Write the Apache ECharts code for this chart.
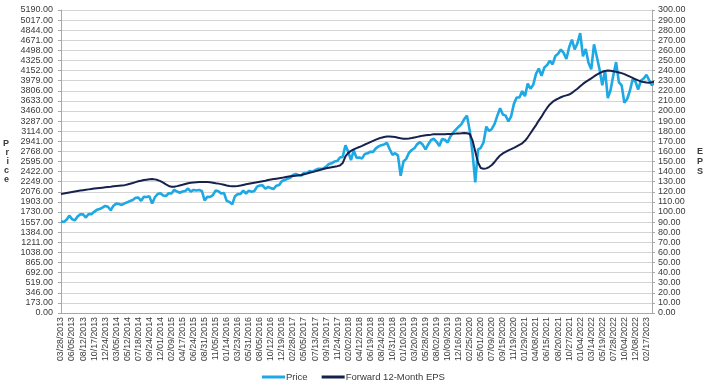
<!DOCTYPE html>
<html><head><meta charset="utf-8">
<script src="https://cdn.jsdelivr.net/npm/echarts@6/dist/echarts.min.js"></script>
<style>html,body{margin:0;padding:0;background:#fff}#c{width:715px;height:387px}</style>
</head><body><div id="c"></div>
<script>
// tick labels (every 4th category)
const tickLabels = ["03/28/2013","06/05/2013","08/12/2013","10/17/2013","12/24/2013","03/05/2014","05/12/2014","07/18/2014","09/24/2014","12/01/2014","02/09/2015","04/17/2015","06/24/2015","08/31/2015","11/05/2015","01/14/2016","03/23/2016","05/31/2016","08/05/2016","10/12/2016","12/19/2016","02/28/2017","05/05/2017","07/13/2017","09/19/2017","11/24/2017","02/02/2018","04/12/2018","06/19/2018","08/24/2018","10/31/2018","01/10/2019","03/20/2019","05/28/2019","08/02/2019","10/09/2019","12/16/2019","02/25/2020","05/01/2020","07/09/2020","09/15/2020","11/19/2020","01/29/2021","04/08/2021","06/15/2021","08/20/2021","10/27/2021","01/04/2022","03/14/2022","05/19/2022","07/28/2022","10/04/2022","12/08/2022","02/17/2023"];
const subPointsPerTick = 4;
const trailingPoints = 2;

const price = [
1569,1560,1597,1667, 1609,1585,1652,1691, 1689,1635,1697,1693, 1733,1767,1782,1805,
1833,1819,1760,1838, 1873,1866,1851,1878, 1896,1920,1937,1974, 1978,1920,1992,1988,
1998,1874,1982,2039, 2053,2012,2003,2051, 2046,2110,2081,2060, 2081,2089,2131,2080,
2108,2099,2108,2091, 1930,1990,1987,2018, 2100,2086,2047,2057, 1921,1903,1860,2001,
2036,2041,2095,2047, 2097,2077,2089,2165, 2183,2186,2128,2159, 2139,2126,2180,2192,
2262,2277,2298,2316, 2364,2381,2359,2355, 2399,2398,2432,2419, 2447,2470,2468,2476,
2506,2552,2564,2594, 2602,2664,2674,2872, 2762,2620,2786,2658, 2663,2648,2722,2735,
2762,2760,2820,2853, 2875,2888,2914,2809, 2711,2736,2700,2351, 2596,2640,2745,2792,
2824,2893,2927,2881, 2802,2891,2964,2984, 2932,2860,2979,2967, 2919,3023,3092,3141,
3191,3235,3321,3380, 3128,2750,2237,2800, 2830,2922,3193,3117, 3152,3239,3380,3508,
3401,3380,3280,3369, 3582,3691,3690,3801, 3714,3931,3842,3911, 4097,4187,4063,4204,
4246,4320,4258,4402, 4441,4514,4455,4351, 4551,4683,4513,4620, 4793,4398,4521,4288,
4173,4602,4393,4175, 3901,4160,3680,3819, 4072,4297,3955,3900, 3600,3665,3807,4003,
3963,3829,3983,4017, 4079,3986,3900,3970
];

const eps = [
117.8,118.3,118.8,119.3, 119.8,120.3,120.8,121.2, 121.6,122.0,122.4,122.8, 123.2,123.5,123.8,124.1,
124.4,124.7,125.0,125.4, 125.7,126.0,126.3,126.6, 127.2,127.9,128.7,129.6, 130.4,131.0,131.6,132.0,
132.4,132.6,132.3,131.6, 130.5,129.0,127.3,125.8, 125.0,125.0,125.6,126.3, 127.0,127.8,128.5,129.0,
129.2,129.4,129.6,129.7, 129.7,129.6,129.4,129.0, 128.5,128.1,127.6,127.0, 126.3,125.8,125.6,125.6,
125.8,126.2,126.8,127.4, 128.0,128.5,129.0,129.5, 130.0,130.5,131.0,131.7, 132.2,132.6,133.0,133.4,
133.8,134.3,134.8,135.3, 135.7,136.0,136.3,136.6, 137.3,138.0,138.8,139.5, 140.2,141.0,141.8,142.6,
143.3,143.9,144.4,144.9, 145.4,146.0,148.5,155.0, 158.5,160.5,162.0,163.3, 164.3,165.5,166.8,168.0,
169.2,170.4,171.6,172.7, 173.6,174.3,174.7,174.8, 174.6,174.2,173.6,173.0, 172.6,172.5,172.7,173.2,
173.8,174.4,175.0,175.6, 176.0,176.3,176.6,177.0, 177.0,176.9,177.0,177.1, 177.2,177.3,177.4,177.6,
177.7,177.9,178.2,178.0, 177.2,171.0,160.0,149.0, 143.5,142.8,143.2,144.5, 146.5,149.5,153.0,156.0,
158.0,159.5,161.0,162.2, 163.5,165.0,166.5,168.0, 170.5,174.0,178.0,182.0, 186.0,190.5,194.4,199.0,
203.0,206.5,209.0,210.9, 212.3,213.6,214.7,215.5, 216.3,218.0,220.0,222.0, 224.5,226.8,228.8,230.5,
232.3,234.2,236.0,237.5, 238.8,239.6,240.0,239.8, 239.3,238.8,238.2,237.5, 236.5,235.2,234.0,232.8,
231.4,230.3,229.3,228.6, 228.2,228.0,228.6,229.2
];

// category list: each tick label followed by unlabeled sub-points
const categories = [];
tickLabels.forEach((t, i) => {
  categories.push(t);
  if (i < tickLabels.length - 1) for (let j = 1; j < subPointsPerTick; j++) categories.push(t + '+' + j);
});
for (let j = 1; j <= trailingPoints; j++) categories.push(tickLabels[tickLabels.length - 1] + '+' + j);

const chart = echarts.init(document.getElementById('c'));
const lblColor = '#3a3a3a';
const ff = 'Liberation Sans, Arial, sans-serif';
chart.setOption({
  animation: false,
  grid: { left: 60, right: 63, top: 10, bottom: 74 },
  legend: {
    bottom: 5, left: 262, padding: 0,
    itemWidth: 23, itemHeight: 3, itemGap: 14,
    icon: 'rect',
    textStyle: { fontFamily: ff, fontSize: 9.5, color: lblColor, padding: [0, 0, 0, -4] },
    data: ['Price', 'Forward 12-Month EPS']
  },
  xAxis: {
    type: 'category', data: categories, boundaryGap: false,
    axisLine: { lineStyle: { color: '#a8a8a8', width: 1 } },
    axisTick: { show: false },
    axisLabel: {
      interval: (idx) => idx % subPointsPerTick === 0,
      rotate: 90, fontSize: 8.8, fontFamily: ff, color: lblColor, margin: 4,
      formatter: (v) => v.split('+')[0]
    },
    splitLine: { show: false }
  },
  yAxis: [
    {
      type: 'value', min: 0, max: 5190, interval: 173,
      name: 'P\nr\ni\nc\ne', nameLocation: 'middle', nameRotate: 0, nameGap: 52,
      nameTextStyle: { fontFamily: ff, fontSize: 9, fontWeight: 'bold', color: lblColor, lineHeight: 9 },
      axisLine: { show: true, lineStyle: { color: '#a8a8a8' } },
      axisTick: { show: true, length: 3, lineStyle: { color: '#a8a8a8' } },
      axisLabel: { fontSize: 9, fontFamily: ff, color: lblColor, margin: 8, formatter: (v) => v.toFixed(2) },
      splitLine: { show: true, lineStyle: { color: '#d4d4d4', width: 1.2 } }
    },
    {
      type: 'value', min: 0, max: 300, interval: 10, position: 'right',
      name: 'E\nP\nS', nameLocation: 'middle', nameRotate: 0, nameGap: 45,
      nameTextStyle: { fontFamily: ff, fontSize: 9, fontWeight: 'bold', color: lblColor, lineHeight: 10 },
      axisLine: { show: true, lineStyle: { color: '#a8a8a8' } },
      axisTick: { show: true, length: 3, lineStyle: { color: '#a8a8a8' } },
      axisLabel: { fontSize: 9, fontFamily: ff, color: lblColor, margin: 6, formatter: (v) => v.toFixed(2) },
      splitLine: { show: false }
    }
  ],
  series: [
    { name: 'Price', type: 'line', yAxisIndex: 0, data: price, showSymbol: false, symbol: 'none',
      itemStyle: { color: '#1ea8e4' }, lineStyle: { color: '#1ea8e4', width: 2.6 } },
    { name: 'Forward 12-Month EPS', type: 'line', yAxisIndex: 1, data: eps, showSymbol: false, symbol: 'none',
      itemStyle: { color: '#17214d' }, lineStyle: { color: '#17214d', width: 2 } }
  ]
});
</script></body></html>
